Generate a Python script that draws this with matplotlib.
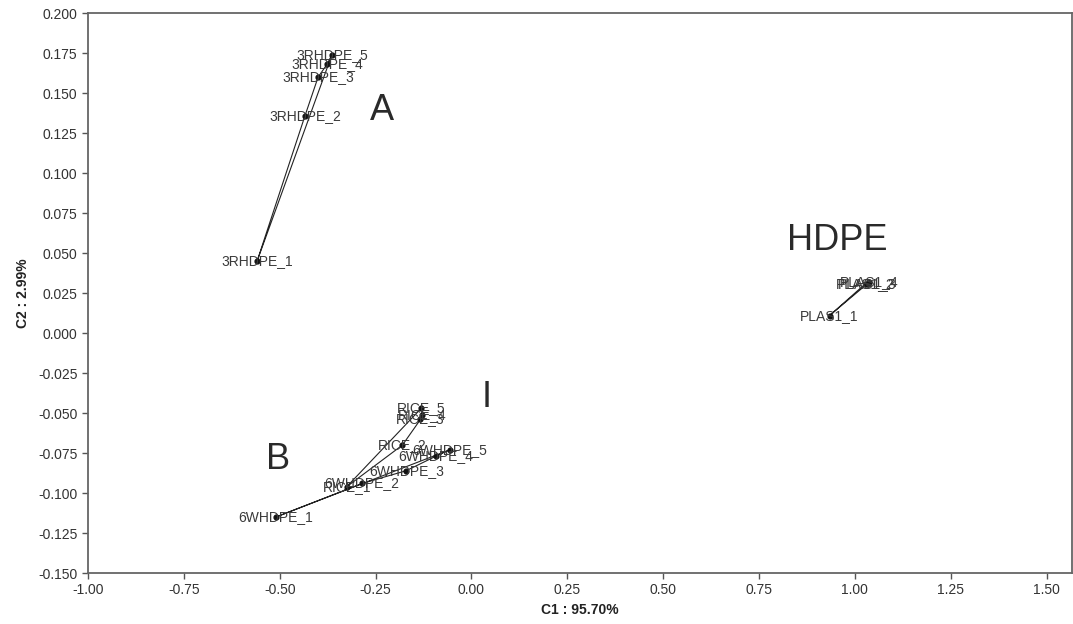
import matplotlib
matplotlib.use("Agg")
import matplotlib.pyplot as plt

plt.rcParams['font.family'] = ['Liberation Sans', 'DejaVu Sans']

# sample scores on the first two components
rhdpe_names = ["3RHDPE_1", "3RHDPE_2", "3RHDPE_3", "3RHDPE_4", "3RHDPE_5"]
rhdpe_c1 = [-0.559, -0.434, -0.400, -0.377, -0.364]
rhdpe_c2 = [0.045, 0.136, 0.160, 0.168, 0.174]

wh_names = ["6WHDPE_1", "6WHDPE_2", "6WHDPE_3", "6WHDPE_4", "6WHDPE_5"]
wh_c1 = [-0.510, -0.285, -0.170, -0.093, -0.057]
wh_c2 = [-0.115, -0.094, -0.086, -0.077, -0.073]

rice_names = ["RICE_1", "RICE_2", "RICE_3", "RICE_4", "RICE_5"]
rice_c1 = [-0.325, -0.180, -0.133, -0.128, -0.131]
rice_c2 = [-0.096, -0.070, -0.054, -0.051, -0.047]

plas_names = ["PLAS1_1", "PLAS1_2", "PLAS1_3", "PLAS1_4"]
plas_c1 = [0.934, 1.028, 1.033, 1.038]
plas_c2 = [0.011, 0.031, 0.031, 0.032]

groups = [(rhdpe_names, rhdpe_c1, rhdpe_c2),
          (wh_names, wh_c1, wh_c2),
          (rice_names, rice_c1, rice_c2),
          (plas_names, plas_c1, plas_c2)]

# big group letters
group_labels = ["A", "B", "I", "HDPE"]
group_x = [-0.234, -0.505, 0.040, 0.955]
group_y = [0.139, -0.079, -0.040, 0.058]

fig = plt.figure(figsize=(10.73, 6.24), dpi=100)
ax = fig.add_axes([0.082, 0.0817, 0.917, 0.897])

for names, xs, ys in groups:
    # closed trajectory through the replicates
    ax.plot(xs + xs[:1], ys + ys[:1], color='#222222', lw=0.8, zorder=2)
    ax.scatter(xs, ys, s=12, color='#111111', zorder=3)
    for n, x, y in zip(names, xs, ys):
        ax.text(x, y, n, fontsize=10, color='#3a3a3a', ha='center', va='center', zorder=4)

for t, x, y in zip(group_labels, group_x, group_y):
    ax.text(x, y, t, fontsize=26, color='#2a2a2a', ha='center', va='center')

ax.set_xlim(-1.0, 1.566)
ax.set_ylim(-0.15, 0.2)
ax.set_xticks([-1.0, -0.75, -0.5, -0.25, 0.0, 0.25, 0.5, 0.75, 1.0, 1.25, 1.5])
ax.set_yticks([-0.15, -0.125, -0.1, -0.075, -0.05, -0.025, 0.0, 0.025, 0.05, 0.075, 0.1, 0.125, 0.15, 0.175, 0.2])
ax.xaxis.set_major_formatter(matplotlib.ticker.FormatStrFormatter('%.2f'))
ax.yaxis.set_major_formatter(matplotlib.ticker.FormatStrFormatter('%.3f'))
ax.tick_params(direction='out', length=4, width=1, colors='#555555', labelcolor='#333333', labelsize=10)

for s in ax.spines.values():
    s.set_color('#666666')
    s.set_linewidth(1.3)

ax.set_xlabel("C1 : 95.70%", fontsize=10, fontweight='bold', color='#222222', labelpad=4)
ax.set_ylabel("C2 : 2.99%", fontsize=10, fontweight='bold', color='#222222', labelpad=6)

fig.savefig("out.png", dpi=100)
